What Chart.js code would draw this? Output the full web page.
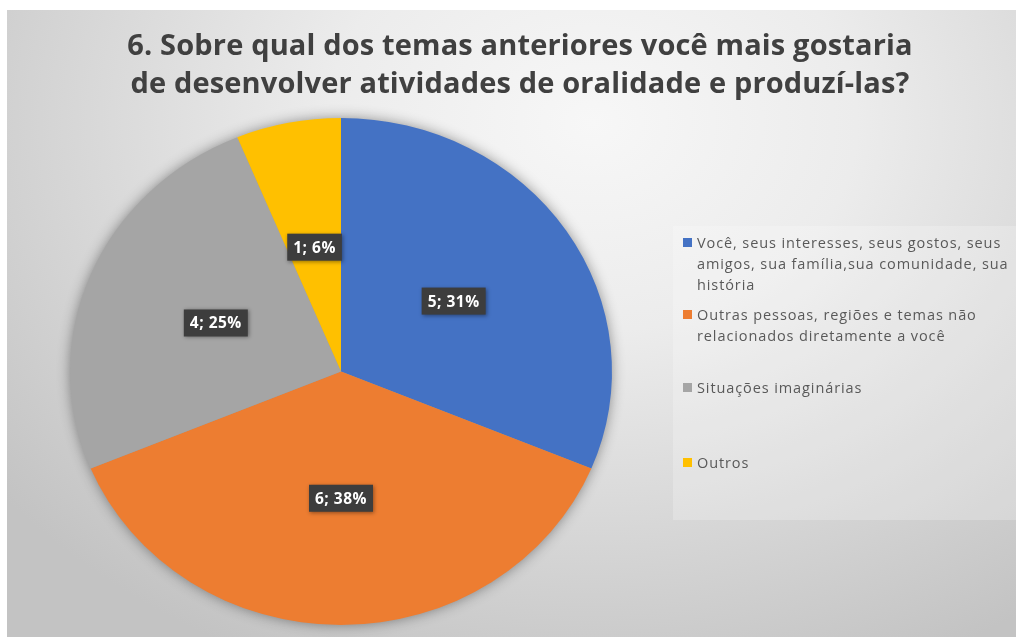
<!DOCTYPE html>
<html>
<head>
<meta charset="utf-8">
<script src="https://cdn.jsdelivr.net/npm/chart.js@4"></script>
<style>
  body { margin: 0; background: #ffffff; }
  #wrap {
    position: absolute; left: 7px; top: 10px; width: 1009px; height: 627px;
    background: radial-gradient(ellipse 75% 95% at 58% 18%, #f7f7f7 0%, #ececec 35%, #d9d9d9 65%, #c3c3c3 100%);
    overflow: hidden;
  }
  #wrap canvas { position: absolute; left: 0; top: 0; }
  #titulo {
    position: absolute; left: 0; top: 15px; width: 1026px; text-align: center;
    font-family: "Open Sans", sans-serif; font-weight: bold; font-size: 29px; line-height: 38px;
    letter-spacing: 0.15px; color: #404040;
  }
  #legend {
    position: absolute; left: 666px; top: 216px; width: 343px; height: 294px;
    background: rgba(255,255,255,0.22);
    font-family: "Open Sans", sans-serif; font-size: 14.5px; letter-spacing: 0.9px; color: #595959; line-height: 21px;
  }
  .item { position: absolute; left: 10px; right: 0; padding-left: 14px; }
  .item span.sq { position: absolute; left: 0; top: 6px; width: 9px; height: 9px; }
</style>
</head>
<body>
<div id="wrap">
  <canvas id="pie" width="1009" height="627"></canvas>
  <div id="titulo"></div>
  <div id="legend"></div>
</div>
<script>
// Dados do gráfico
const titulo = ['6. Sobre qual dos temas anteriores você mais gostaria', 'de desenvolver atividades de oralidade e produzí-las?'];
const categorias = [
    'Você, seus interesses, seus gostos, seus amigos, sua família,sua comunidade, sua história',
    'Outras pessoas, regiões e temas não relacionados diretamente a você',
    'Situações imaginárias',
    'Outros'
];
const respostas = [5, 6, 4, 1];
const cores = ['#4472C4', '#ED7D31', '#A5A5A5', '#FFC000'];

// topo de cada item da legenda (px dentro da caixa)
const legendaTopos = [6, 78, 151, 226];

const esticar = 1.069; // a pizza da imagem é levemente mais larga que alta

document.getElementById('titulo').innerHTML = titulo.join('<br>');

// legenda em html
const legend = document.getElementById('legend');
categorias.forEach((cat, i) => {
    const div = document.createElement('div');
    div.className = 'item';
    div.style.top = legendaTopos[i] + 'px';
    div.innerHTML = `<span class="sq" style="background:${cores[i]}"></span>${cat}`;
    legend.appendChild(div);
});

const total = respostas.reduce((a, b) => a + b, 0);

// estica a pizza em x e desenha a sombra por baixo
const elipsePlugin = {
    id: 'elipse',
    beforeDatasetsDraw(chart) {
        const arc = chart.getDatasetMeta(0).data[0];
        const ctx = chart.ctx;
        ctx.save();
        ctx.translate(arc.x, arc.y);
        ctx.scale(esticar, 1);
        ctx.translate(-arc.x, -arc.y);
        // sombra
        ctx.save();
        ctx.shadowColor = 'rgba(0,0,0,0.45)';
        ctx.shadowBlur = 14;
        ctx.fillStyle = '#999';
        ctx.beginPath();
        ctx.arc(arc.x, arc.y, arc.outerRadius - 1, 0, Math.PI * 2);
        ctx.fill();
        ctx.restore();
    },
    afterDatasetsDraw(chart) {
        const ctx = chart.ctx;
        ctx.restore();
        // rótulos de dados
        const meta = chart.getDatasetMeta(0);
        ctx.save();
        ctx.font = 'bold 15.5px "Open Sans", sans-serif';
        ctx.letterSpacing = '0.5px';
        ctx.textAlign = 'center';
        ctx.textBaseline = 'middle';
        meta.data.forEach((el, i) => {
            const p = el.tooltipPosition();
            const x = el.x + (p.x - el.x) * esticar;
            const y = p.y;
            const pct = Math.round(respostas[i] / total * 100);
            const txt = `${respostas[i]}; ${pct}%`;
            const w = ctx.measureText(txt).width + 12;
            const h = 27;
            ctx.shadowColor = 'rgba(0,0,0,0.4)';
            ctx.shadowBlur = 4;
            ctx.shadowOffsetX = 1;
            ctx.shadowOffsetY = 1;
            ctx.fillStyle = '#3d3d3d';
            ctx.fillRect(x - w / 2, y - h / 2, w, h);
            ctx.shadowColor = 'transparent';
            ctx.fillStyle = '#ffffff';
            ctx.fillText(txt, x, y + 1);
        });
        ctx.restore();
    }
};

new Chart(document.getElementById('pie'), {
    type: 'pie',
    data: {
        labels: categorias,
        datasets: [{
            data: respostas,
            backgroundColor: cores,
            borderWidth: 0
        }]
    },
    options: {
        responsive: false,
        animation: false,
        layout: { padding: { left: 80, right: 421, top: 108, bottom: 12 } },
        plugins: {
            legend: { display: false },
            tooltip: { enabled: false },
            title: { display: false }
        }
    },
    plugins: [elipsePlugin]
});
</script>
</body>
</html>
